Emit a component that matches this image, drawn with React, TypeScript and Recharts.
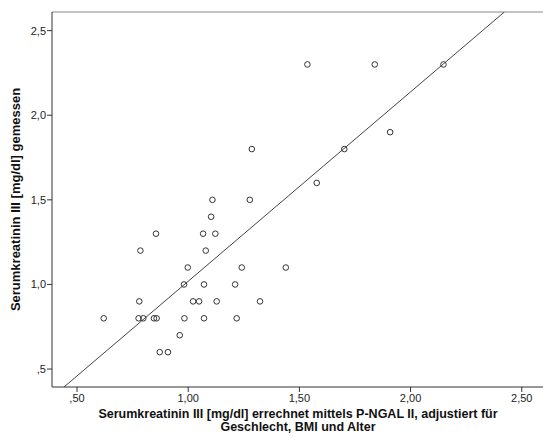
import { ScatterChart, Scatter, XAxis, YAxis, ReferenceLine, Label } from 'recharts'

// Serumkreatinin III: errechnet (x) vs. gemessen (y), mg/dl
const errechnet = [
  0.62, 0.78, 0.785, 0.855, 0.777, 0.798, 0.846, 0.858, 0.872, 0.909, 0.962, 0.983, 0.981,
  0.998, 1.022, 1.049, 1.071, 1.071, 1.079, 1.067, 1.122, 1.103, 1.109, 1.128, 1.211, 1.218,
  1.277, 1.241, 1.323, 1.536, 1.839, 2.148, 1.908, 1.286, 1.702, 1.578, 1.439,
]
const gemessen = [
  0.8, 0.9, 1.2, 1.3, 0.8, 0.8, 0.8, 0.8, 0.6, 0.6, 0.7, 0.8, 1.0,
  1.1, 0.9, 0.9, 1.0, 0.8, 1.2, 1.3, 1.3, 1.4, 1.5, 0.9, 1.0, 0.8,
  1.5, 1.1, 0.9, 2.3, 2.3, 2.3, 1.9, 1.8, 1.8, 1.6, 1.1,
]
const xTicks = [0.5, 1.0, 1.5, 2.0, 2.5]
const yTicks = [0.5, 1.0, 1.5, 2.0, 2.5]
const X_DOMAIN: [number, number] = [0.3875, 2.6]
const Y_DOMAIN: [number, number] = [0.394, 2.61]
// Anpassungslinie
const FIT = { slope: 1.119, intercept: -0.1 }

const points = errechnet.map((x, i) => ({ x, y: gemessen[i] }))
const fitSegment = Y_DOMAIN.map((y) => ({ x: (y - FIT.intercept) / FIT.slope, y }))

const FONT = '"Liberation Sans", Arial, sans-serif'
const fmt = (v: number, d: number) => v.toFixed(d).replace('.', ',').replace(/^0/, '')

const ring = (p: any) => (
  <circle cx={p.cx} cy={p.cy} r={2.8} fill="none" stroke="#333" strokeWidth={1} />
)

const xLabel = (p: any) => {
  const vb = p.viewBox
  const cx = vb.x + vb.width / 2
  return (
    <text x={cx} textAnchor="middle" fontSize={12.5} fontWeight="bold" fill="#111" fontFamily={FONT}>
      <tspan x={cx} y={418}>Serumkreatinin III [mg/dl] errechnet mittels P-NGAL II, adjustiert für</tspan>
      <tspan x={cx} y={431}>Geschlecht, BMI und Alter</tspan>
    </text>
  )
}

const yLabel = (p: any) => {
  const vb = p.viewBox
  const cy = vb.y + vb.height / 2
  return (
    <text
      x={20}
      y={cy}
      transform={`rotate(-90, 20, ${cy})`}
      textAnchor="middle"
      fontSize={13}
      fontWeight="bold"
      fill="#111"
      fontFamily={FONT}
    >
      Serumkreatinin III [mg/dl] gemessen
    </text>
  )
}

export default function App() {
  return (
    <div style={{ position: 'absolute', left: 0, top: 0, width: 543, height: 439, overflow: 'hidden', background: '#fff' }}>
      <ScatterChart
        width={560}
        height={439}
        margin={{ top: 12, right: 16, bottom: 0, left: 0 }}
        style={{ fontFamily: FONT }}
      >
        <XAxis
          dataKey="x"
          type="number"
          domain={X_DOMAIN}
          allowDataOverflow
          ticks={xTicks}
          tickFormatter={(v) => fmt(v, 2)}
          height={52}
          tickSize={5}
          tickMargin={2}
          stroke="#333"
          tick={{ fontSize: 11, fill: '#222' }}
        >
          <Label content={xLabel} />
        </XAxis>
        <YAxis
          dataKey="y"
          type="number"
          domain={Y_DOMAIN}
          allowDataOverflow
          ticks={yTicks}
          tickFormatter={(v) => fmt(v, 1)}
          width={52}
          tickSize={5}
          tickMargin={1}
          stroke="#333"
          tick={{ fontSize: 11, fill: '#222' }}
        >
          <Label content={yLabel} />
        </YAxis>
        <ReferenceLine y={Y_DOMAIN[1]} stroke="#888" strokeWidth={1} />
        <ReferenceLine x={X_DOMAIN[1]} stroke="#888" strokeWidth={1} />
        <ReferenceLine segment={fitSegment} stroke="#444" strokeWidth={1} ifOverflow="hidden" />
        <Scatter data={points} shape={ring} isAnimationActive={false} />
      </ScatterChart>
    </div>
  )
}
